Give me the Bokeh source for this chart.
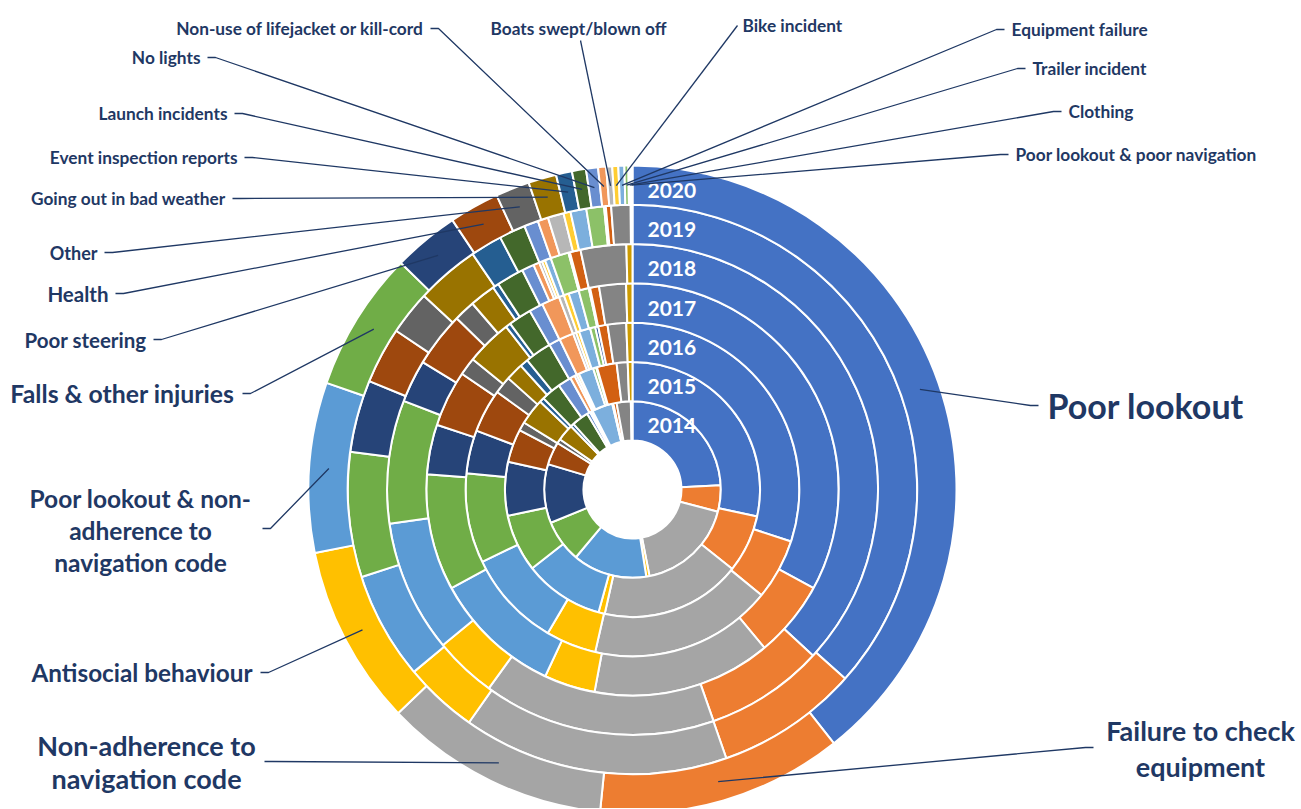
import math
from bokeh.plotting import figure
from bokeh.models import Range1d, ColumnDataSource
from bokeh.core.properties import value
from bokeh.embed import file_html
from bokeh.resources import INLINE

# ---------------- data ----------------
years = ["2014", "2015", "2016", "2017", "2018", "2019", "2020"]

categories = [
    "Poor lookout", "Failure to check equipment", "Non-adherence to navigation code",
    "Antisocial behaviour", "Poor lookout & non-adherence to navigation code",
    "Falls & other injuries", "Poor steering", "Health", "Other",
    "Going out in bad weather", "Event inspection reports", "Launch incidents",
    "No lights", "Non-use of lifejacket or kill-cord", "Boats swept/blown off",
    "Bike incident", "Equipment failure", "Trailer incident", "Clothing",
    "Poor lookout & poor navigation", "Unlabelled A", "Unlabelled B",
]

# share of incidents (%) per category, one list per year (inner ring = 2014)
share_2014 = [24.3, 4.8, 17.9, 0.6, 13.6, 7.8, 10.8, 4.2, 0.8, 3.1, 0.6, 3.1, 0.6, 0.3, 0.1, 0.1, 3.8, 0.1, 0.1, 0.6, 2.6, 0.3]
share_2015 = [28.4, 7.3, 17.8, 0.8, 10.1, 7.3, 6.8, 4.2, 1.1, 3.3, 0.6, 2.5, 1.7, 0.6, 0.3, 0.3, 1.9, 0.4, 0.1, 2.5, 1.4, 0.6]
share_2016 = [30.1, 5.9, 17.7, 4.9, 9.4, 8.7, 4.2, 4.2, 1.7, 1.7, 0.8, 2.6, 1.1, 1.4, 0.3, 0.3, 1.1, 0.5, 0.3, 0.9, 1.8, 0.6]
share_2017 = [32.9, 6.0, 14.0, 4.0, 10.1, 9.1, 3.9, 4.4, 1.4, 3.6, 0.4, 1.8, 1.1, 1.4, 0.4, 0.4, 0.8, 0.8, 0.1, 0.7, 2.1, 0.5]
share_2018 = [36.8, 7.8, 15.3, 4.1, 8.7, 8.1, 2.8, 3.6, 1.4, 1.7, 0.4, 1.8, 0.8, 0.4, 0.2, 0.2, 0.4, 1.2, 0.1, 0.7, 3.0, 0.4]
share_2019 = [36.6, 8.1, 15.1, 4.2, 6.1, 7.1, 4.1, 3.2, 2.5, 3.6, 1.8, 1.5, 0.8, 0.6, 0.9, 0.4, 0.9, 1.0, 0.1, 0.3, 1.1, 0.1]
share_2020 = [39.4, 12.3, 11.3, 9.0, 8.5, 7.0, 3.3, 2.5, 1.7, 1.4, 0.8, 0.7, 0.6, 0.4, 0.3, 0.3, 0.3, 0.2, 0.1, 0.1, 0.0, 0.0]

shares = [share_2014, share_2015, share_2016, share_2017, share_2018, share_2019, share_2020]

# ---------------- styles ----------------
colors = ["#4472C4", "#ED7D31", "#A5A5A5", "#FFC000", "#5B9BD5", "#70AD47",
          "#264478", "#9E480E", "#636363", "#997300", "#255E91", "#43682B",
          "#698ED0", "#F1975A", "#B7B7B7", "#FFCD33", "#7CAFDD", "#8CC168",
          "#335AA1", "#D26012", "#848484", "#CC9A00"]
NAVY = "#1F3864"
FONT = "Lato"

W, H = 1300, 808          # figure size
OX, OY = 0, 0             # screen offset of the figure
CX, CY = 632, 489         # screen position of the doughnut centre
HOLE, OUTER = 49.0, 324.0
ring_w = (OUTER - HOLE) / len(years)


def dx(X):
    return X - CX


def dy(Y):
    return CY - Y


p = figure(width=W, height=H,
           x_range=Range1d(OX - CX, OX + W - CX),
           y_range=Range1d(CY - OY - H, CY - OY),
           output_backend="svg", toolbar_location=None, min_border=0,
           x_axis_location=None, y_axis_location=None)
p.grid.visible = False
p.outline_line_color = None
p.background_fill_color = "white"

# ---------------- rings ----------------
d = dict(x=[], y=[], rin=[], rout=[], a0=[], a1=[], fill=[])
cum_2020 = []
for k, vals in enumerate(shares):
    total = float(sum(vals))
    cum = 0.0
    for i, v in enumerate(vals):
        t0 = cum / total * 2 * math.pi
        cum += v
        t1 = cum / total * 2 * math.pi
        if k == len(shares) - 1:
            cum_2020.append((t0, t1))
        if v <= 0:
            continue
        d["x"].append(0)
        d["y"].append(0)
        d["rin"].append(HOLE + ring_w * k)
        d["rout"].append(HOLE + ring_w * (k + 1))
        d["a0"].append(math.pi / 2 - t1)
        d["a1"].append(math.pi / 2 - t0)
        d["fill"].append(colors[i])

p.annular_wedge(x="x", y="y", inner_radius="rin", outer_radius="rout",
                start_angle="a0", end_angle="a1", fill_color="fill",
                line_color="white", line_width=2, source=ColumnDataSource(d))

# year labels inside the first (Poor lookout) segment of each ring
p.text(x=[15] * len(years),
       y=[HOLE + ring_w * (k + 0.5) - 5 for k in range(len(years))],
       text=years, text_color="white", text_font=value(FONT),
       text_font_style="bold", text_font_size="21px",
       text_align="left", text_baseline="middle")

# ---------------- labels & leader lines (screen coords) ----------------
S = 17.3
label_layout = [
    (0, [("Poor lookout", 1047, 405)], "left", 34, (1038, 405), -8),
    (1, [("Failure to check", 1200, 730), ("equipment", 1200, 766)], "center", 27, (1093, 747), -8),
    (2, [("Non-adherence to", 146, 745), ("navigation code", 146, 778)], "center", 27, (264, 761), 8),
    (3, [("Antisocial behaviour", 252, 672)], "right", 24.3, (260, 672), 8),
    (4, [("Poor lookout & non-", 140, 498), ("adherence to", 140, 530), ("navigation code", 140, 562)], "center", 24.5, (262, 528), 8),
    (5, [("Falls & other injuries", 234, 393)], "right", 24.8, (242, 393), 8),
    (6, [("Poor steering", 146, 339)], "right", 20.5, (153, 339), 8),
    (7, [("Health", 108, 293)], "right", 20.5, (115, 293), 8),
    (8, [("Other", 97, 252)], "right", 18, (104, 252), 8),
    (9, [("Going out in bad weather", 225, 198)], "right", S, (232, 198), 8),
    (10, [("Event inspection reports", 237, 157)], "right", S, (244, 157), 8),
    (11, [("Launch incidents", 227, 113)], "right", S, (234, 113), 8),
    (12, [("No lights", 200, 57)], "right", S, (207, 57), 8),
    (13, [("Non-use of lifejacket or kill-cord", 423, 28)], "right", S, (430, 28), 8),
    (14, [("Boats swept/blown off", 490, 28)], "left", S, (580, 40), 0),
    (15, [("Bike incident", 742, 25)], "left", S, (737, 25), 0),
    (16, [("Equipment failure", 1011, 29)], "left", S, (1004, 29), -8),
    (17, [("Trailer incident", 1032, 68)], "left", S, (1025, 68), -8),
    (18, [("Clothing", 1068, 111)], "left", S, (1061, 111), -8),
    (19, [("Poor lookout & poor navigation", 1015, 154)], "left", S, (1008, 154), -8),
]

r_anchor = HOLE + ring_w * (len(years) - 0.5)
lx, ly = [], []
for idx, lines, align, size, start, tick in label_layout:
    t0, t1 = cum_2020[idx]
    mid = (t0 + t1) / 2
    ax, ay = r_anchor * math.sin(mid), r_anchor * math.cos(mid)
    x0, y0 = dx(start[0]), dy(start[1])
    if tick:
        lx.append([x0, x0 + tick, ax])
        ly.append([y0, y0, ay])
    else:
        lx.append([x0, ax])
        ly.append([y0, ay])
    p.text(x=[dx(t[1]) for t in lines], y=[dy(t[2]) for t in lines],
           text=[t[0] for t in lines], text_color=NAVY, text_font=value(FONT),
           text_font_style="bold", text_font_size=f"{size}px",
           text_align=align, text_baseline="middle")

p.multi_line(xs=lx, ys=ly, line_color=NAVY, line_width=1.3)

open("out.html", "w").write(file_html(p, INLINE))
